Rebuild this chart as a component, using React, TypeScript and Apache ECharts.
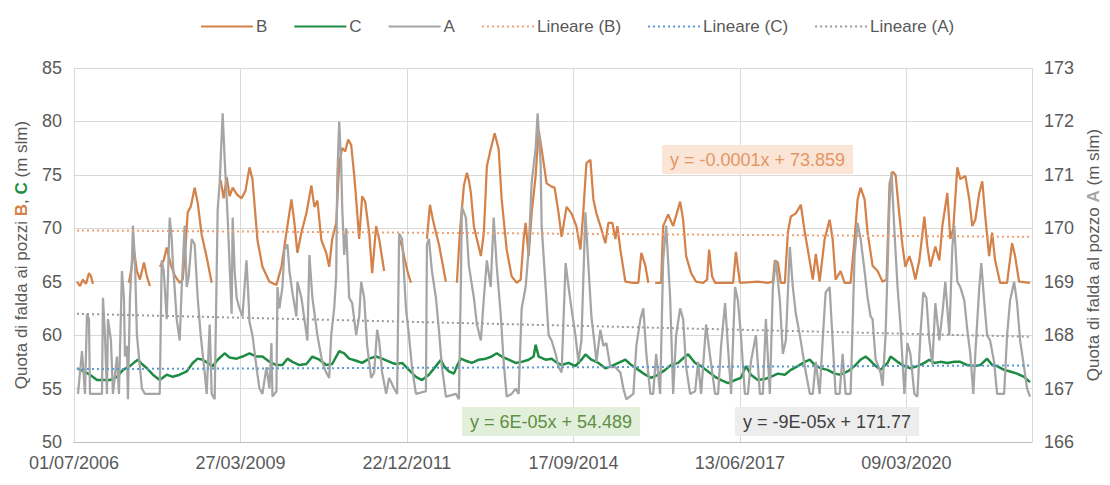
import React, { useEffect, useRef } from 'react';
import * as echarts from 'echarts';

// x values: days since 01/07/2006
const AXIS_MAX_DAY = 5755;
const xTickDays = [0, 1000, 2000, 3000, 4000, 5000];

// Series B (left axis), null = gap in record
const bDays = [18, 36, 54, 72, 90, 102, 114, 220,
  330, 348, 360, 378, 396, 420, 438, 456, 486,
  515, 539, 557, 581, 605, 635, 653, 671, 683, 701, 725, 743, 767, 797, 827, 855,
  881, 899, 917, 935, 953, 977, 1006, 1030, 1054, 1072, 1102, 1132, 1174, 1216, 1246, 1276, 1306, 1324, 1342, 1366, 1396, 1426, 1444, 1462, 1486, 1515, 1533, 1551, 1575, 1593, 1611, 1629, 1647, 1665, 1683, 1695, 1713, 1731, 1749, 1773, 1791, 1815, 1833, 1863, 1910,
  1953, 1971, 1988, 2006, 2024, 2070,
  2120, 2138, 2156, 2174, 2192, 2216, 2234, 2270,
  2300, 2318, 2342, 2360, 2372, 2384, 2402, 2420, 2444, 2462, 2480, 2503, 2527, 2551, 2569, 2599, 2629, 2659, 2683, 2701, 2713, 2731, 2749, 2773, 2791, 2809, 2839, 2869, 2887, 2911, 2929, 2959, 2988, 3018, 3042, 3060, 3078, 3102, 3120, 3138, 3168, 3192, 3210, 3234, 3252, 3264, 3282, 3312, 3360, 3390, 3408, 3432, 3450, 3470,
  3491, 3527, 3539, 3569, 3599, 3641, 3659, 3677, 3707, 3737, 3779, 3803, 3815, 3833, 3851, 3959, 3976, 4000, 4108, 4168, 4198, 4210, 4228, 4246, 4270, 4288, 4306, 4336, 4366, 4390, 4408, 4438, 4456, 4479, 4509, 4539, 4557, 4575, 4605, 4629, 4665, 4689, 4707, 4725, 4749, 4767, 4797, 4827, 4857, 4881, 4899, 4917, 4935, 4959, 4977, 4994, 5018, 5036, 5054, 5078, 5108, 5126, 5144, 5174, 5198, 5216, 5246, 5264, 5282, 5306, 5324, 5354, 5378, 5396, 5414, 5438, 5456, 5474, 5497, 5515, 5533, 5563, 5605, 5635, 5653, 5677, 5743];
const bValues = [65.0, 64.6, 65.2, 64.8, 65.8, 65.5, 64.8, null,
  64.9, 66.5, 68.0, 66.0, 65.2, 66.8, 65.5, 64.6, null,
  66.4, 67.0, 68.2, 66.6, 65.6, 64.9, 65.2, 68.5, 71.5, 72.0, 73.8, 72.4, 69.4, 67.3, 64.9, null,
  74.5, 72.8, 74.8, 73.0, 73.8, 73.2, 72.8, 73.5, 75.7, 74.6, 68.9, 66.4, 65.0, 64.7, 66.4, 69.6, 72.7, 70.5, 67.7, 69.6, 71.4, 74.0, 72.0, 72.6, 68.9, 67.7, 66.4, 69.0, 70.5, 76.0, 77.5, 77.2, 78.3, 77.8, 75.0, 72.7, 69.0, 73.0, 72.5, 69.6, 65.8, 70.2, 69.0, 66.0, null,
  69.0, 68.3, 67.0, 65.8, 64.9, null,
  69.0, 72.2, 70.8, 69.6, 68.5, 66.5, 65.0, null,
  64.9, 69.6, 74.0, 75.2, 74.5, 73.3, 70.2, 69.0, 67.4, 69.6, 75.8, 77.4, 78.9, 77.4, 72.7, 68.0, 65.5, 64.9, 65.2, 69.0, 70.5, 67.4, 71.4, 74.9, 79.2, 77.4, 74.2, 73.9, 73.8, 71.4, 69.2, 72.0, 71.4, 70.2, 68.0, 71.7, 76.1, 76.4, 72.7, 71.4, 69.9, 68.6, 70.5, 70.5, 69.0, 70.2, 68.0, 65.0, 64.9, 64.9, 67.7, 66.5, 64.9, null,
  64.9, 64.9, 70.2, 71.3, 70.2, 72.5, 70.8, 67.4, 65.8, 65.0, 64.9, 65.2, 68.0, 65.5, 64.9, 64.9, 67.8, 64.9, 65.0, 64.9, 65.0, 67.0, 66.8, 64.9, 64.9, 69.6, 71.1, 71.4, 72.2, 69.6, 68.0, 65.2, 67.6, 65.0, 69.0, 70.8, 69.0, 65.2, 66.0, 64.9, 64.9, 69.0, 72.7, 73.8, 72.7, 69.6, 66.5, 66.0, 65.0, 65.2, 74.2, 75.3, 75.0, 71.1, 68.3, 66.4, 67.4, 66.5, 65.2, 67.0, 71.1, 68.3, 66.4, 68.3, 67.0, 70.2, 73.3, 69.0, 70.0, 75.7, 74.6, 74.9, 72.7, 70.2, 70.8, 73.3, 74.4, 71.1, 67.4, 69.6, 67.0, 64.9, 64.9, 68.6, 67.4, 65.0, 64.9];

// Series C (left axis)
const cDays = [18, 60, 96, 138, 180, 216, 258, 294, 336, 366, 384, 408, 438, 474, 515, 557, 593, 635, 677, 713, 743, 773, 803, 833, 863, 905, 935, 977, 1012, 1054, 1096, 1132, 1174, 1216, 1252, 1282, 1312, 1354, 1396, 1432, 1474, 1515, 1551, 1593, 1623, 1653, 1695, 1731, 1773, 1815, 1851, 1911, 1935, 1971, 2012, 2054, 2090, 2132, 2174, 2204, 2222, 2252, 2282, 2300, 2324, 2354, 2390, 2432, 2474, 2509, 2539, 2569, 2611, 2653, 2689, 2731, 2761, 2773, 2791, 2833, 2869, 2893, 2929, 2971, 3012, 3048, 3072, 3108, 3150, 3192, 3228, 3270, 3312, 3348, 3390, 3432, 3468, 3509, 3551, 3587, 3629, 3671, 3689, 3731, 3767, 3809, 3851, 3887, 3929, 3971, 4006, 4036, 4066, 4108, 4150, 4186, 4228, 4270, 4306, 4348, 4390, 4420, 4450, 4485, 4527, 4569, 4605, 4647, 4689, 4725, 4755, 4785, 4809, 4845, 4887, 4905, 4947, 4988, 5024, 5066, 5108, 5138, 5168, 5204, 5246, 5288, 5324, 5366, 5408, 5444, 5485, 5515, 5545, 5587, 5623, 5665, 5707, 5743];
const cValues = [56.9, 56.6, 56.3, 55.8, 55.8, 55.8, 56.1, 56.75, 57.1, 57.5, 57.7, 57.3, 56.9, 56.3, 55.8, 56.3, 56.1, 56.3, 56.6, 57.4, 57.8, 57.7, 57.4, 57.1, 57.7, 58.3, 57.9, 57.8, 58.0, 58.3, 58.0, 58.0, 57.5, 57.2, 57.2, 57.8, 57.5, 57.2, 57.3, 58.0, 57.7, 57.2, 57.3, 58.5, 58.3, 57.8, 57.6, 57.4, 57.8, 58.0, 57.8, 57.4, 57.3, 57.4, 56.75, 56.1, 55.8, 56.3, 57.1, 57.7, 57.1, 56.6, 56.4, 57.1, 57.8, 57.6, 57.4, 57.7, 57.8, 58.0, 58.3, 58.0, 57.7, 57.4, 57.5, 57.7, 58.0, 59.1, 58.0, 57.7, 57.8, 57.5, 57.2, 57.4, 57.1, 57.7, 58.2, 57.7, 57.4, 56.9, 57.1, 57.4, 57.7, 57.2, 56.75, 56.3, 56.0, 56.3, 56.75, 57.2, 57.4, 58.0, 58.2, 57.4, 57.1, 56.6, 56.1, 55.8, 55.5, 55.8, 56.0, 57.1, 56.3, 55.8, 55.9, 56.1, 56.4, 56.3, 56.75, 57.1, 57.5, 57.7, 57.2, 56.9, 56.75, 56.4, 56.3, 56.6, 57.1, 57.7, 58.0, 57.6, 57.2, 56.75, 57.4, 58.0, 57.5, 57.1, 56.9, 57.1, 57.4, 57.7, 57.4, 57.5, 57.4, 57.5, 57.5, 57.2, 57.1, 57.2, 57.8, 57.2, 57.1, 56.75, 56.6, 56.4, 56.1, 55.6];

// Series A (right axis)
const aDays = [24, 48, 66, 78, 90, 96, 168, 174, 186, 198, 204, 222, 234, 258, 270, 288, 300, 306, 318, 324, 336, 348, 354, 366, 378, 396, 408, 426, 456, 515, 527, 539, 557, 575, 587, 593, 617, 635, 647, 665, 677, 689, 707, 725, 743, 761, 785, 797, 815, 827, 845, 863, 875, 893, 905, 923, 947, 953, 965, 977, 994, 1012, 1036, 1048, 1054, 1072, 1096, 1114, 1132, 1156, 1174, 1186, 1192, 1216, 1222, 1234, 1252, 1264, 1282, 1294, 1312, 1336, 1342, 1366, 1384, 1402, 1414, 1432, 1462, 1491, 1515, 1533, 1545, 1563, 1575, 1581, 1593, 1605, 1611, 1623, 1635, 1653, 1671, 1695, 1713, 1725, 1743, 1761, 1785, 1803, 1821, 1833, 1851, 1875, 1893, 1923, 1941, 1953, 1971, 1994, 2012, 2030, 2054, 2114, 2120, 2132, 2150, 2174, 2192, 2210, 2234, 2294, 2312, 2324, 2330, 2354, 2372, 2402, 2420, 2444, 2462, 2480, 2503, 2521, 2539, 2563, 2581, 2599, 2629, 2653, 2671, 2689, 2713, 2731, 2749, 2773, 2785, 2803, 2809, 2833, 2851, 2869, 2893, 2911, 2929, 2953, 2971, 2988, 3012, 3030, 3048, 3072, 3090, 3108, 3132, 3138, 3162, 3180, 3198, 3222, 3252, 3282, 3300, 3318, 3360, 3378, 3402, 3420, 3438, 3462, 3479, 3497, 3521, 3539, 3557, 3581, 3599, 3617, 3641, 3659, 3677, 3701, 3731, 3749, 3767, 3797, 3821, 3851, 3869, 3887, 3911, 3929, 3947, 3971, 3988, 4006, 4030, 4048, 4066, 4096, 4120, 4138, 4156, 4180, 4198, 4216, 4240, 4258, 4276, 4300, 4318, 4336, 4360, 4378, 4396, 4420, 4438, 4456, 4479, 4497, 4515, 4539, 4557, 4575, 4599, 4617, 4635, 4665, 4689, 4707, 4725, 4749, 4767, 4785, 4797, 4815, 4845, 4857, 4875, 4899, 4911, 4929, 4947, 4965, 4988, 5006, 5024, 5048, 5066, 5084, 5102, 5120, 5138, 5156, 5174, 5198, 5216, 5234, 5258, 5276, 5288, 5306, 5324, 5348, 5366, 5384, 5402, 5414, 5438, 5450, 5467, 5485, 5503, 5527, 5545, 5587, 5605, 5623, 5647, 5665, 5683, 5707, 5725, 5743];
const aValues = [166.9, 167.7, 166.9, 168.4, 168.3, 166.9, 166.9, 168.7, 168.0, 166.9, 168.3, 167.9, 166.9, 167.6, 166.9, 169.2, 168.7, 167.6, 167.8, 166.8, 168.7, 169.4, 170.05, 169.4, 168.0, 167.4, 167.0, 166.9, 166.9, 166.9, 169.4, 169.2, 168.3, 170.2, 169.8, 169.4, 168.3, 167.9, 168.9, 170.05, 168.9, 169.1, 169.8, 169.7, 168.7, 168.0, 167.3, 166.9, 168.2, 166.9, 166.8, 170.35, 170.85, 172.15, 171.3, 170.2, 168.4, 170.2, 169.2, 168.7, 168.5, 168.35, 169.4, 168.7, 168.25, 168.0, 167.4, 167.0, 166.9, 167.4, 167.0, 167.85, 166.85, 166.95, 168.9, 168.5, 168.9, 169.6, 169.7, 169.2, 168.8, 168.35, 169.0, 168.7, 168.3, 167.9, 169.5, 168.7, 168.0, 167.5, 167.3, 167.2, 168.0, 168.5, 169.1, 170.9, 172.0, 171.2, 170.4, 169.5, 170.0, 168.7, 168.6, 168.0, 168.35, 169.0, 168.7, 167.8, 167.2, 167.3, 168.1, 167.9, 167.3, 166.9, 167.2, 167.0, 166.9, 169.9, 169.8, 168.5, 168.0, 167.4, 166.9, 166.95, 169.7, 169.8, 169.2, 168.7, 168.1, 167.4, 166.85, 166.9, 166.8, 169.0, 170.4, 170.2, 169.3, 168.7, 168.2, 167.9, 168.7, 169.4, 168.9, 170.2, 169.3, 168.4, 167.5, 166.85, 166.9, 167.0, 166.9, 168.5, 168.9, 169.6, 170.85, 171.5, 172.15, 171.2, 170.05, 168.9, 168.0, 167.9, 167.65, 167.4, 167.3, 169.35, 168.9, 168.5, 168.0, 167.5, 167.9, 170.3, 169.3, 168.35, 167.7, 167.5, 168.1, 167.8, 167.85, 167.4, 167.4, 167.3, 167.0, 166.8, 166.9, 167.8, 168.3, 168.5, 167.65, 166.9, 166.9, 167.65, 166.9, 169.4, 170.05, 168.7, 166.9, 168.0, 168.5, 168.3, 167.4, 166.9, 166.95, 167.5, 166.9, 168.2, 167.6, 166.9, 166.9, 167.8, 168.6, 167.75, 166.9, 168.9, 168.65, 168.0, 166.9, 166.9, 167.5, 168.0, 166.9, 166.9, 168.3, 166.9, 168.9, 169.4, 168.65, 167.65, 167.9, 169.65, 168.9, 168.4, 168.0, 167.65, 167.3, 166.9, 166.9, 167.5, 166.9, 167.9, 168.8, 168.9, 167.9, 166.9, 166.9, 167.65, 166.9, 166.9, 169.5, 170.1, 169.8, 169.2, 168.7, 168.35, 168.3, 167.55, 167.3, 167.05, 168.0, 170.5, 171.05, 169.9, 168.9, 168.15, 166.9, 167.85, 167.65, 166.9, 166.85, 168.0, 168.8, 168.7, 167.9, 167.45, 168.6, 167.9, 168.4, 169.0, 168.0, 169.65, 170.05, 169.0, 168.9, 168.65, 168.1, 167.65, 166.9, 167.65, 168.9, 169.35, 168.65, 168.0, 167.9, 167.5, 166.9, 166.9, 168.0, 168.65, 169.0, 168.6, 167.9, 167.4, 167.0, 166.85];

// Linear trend lines (start / end of record)
const trendDays = [18, 5743];
const trendB = [69.8, 69.2];
const trendC = [56.82, 57.16];
const trendA = [168.4, 167.97];

const legendNames = ['B', 'C', 'A', 'Lineare (B)', 'Lineare (C)', 'Lineare (A)'];
const equationTexts = ['y = -0.0001x + 73.859', 'y = 6E-05x + 54.489', 'y = -9E-05x + 171.77'];

const DAY0 = Date.UTC(2006, 6, 1);
const pad = (n: number) => (n < 10 ? '0' + n : '' + n);
const fmtDay = (v: number) => {
  const d = new Date(DAY0 + Math.round(v) * 86400000);
  return pad(d.getUTCDate()) + '/' + pad(d.getUTCMonth() + 1) + '/' + d.getUTCFullYear();
};

const zip = (xs: number[], ys: (number | null)[]) => xs.map((x, i) => [x, ys[i] === null ? '-' : ys[i]]);

const FONT = '"Liberation Sans Narrow", "Liberation Sans", Arial, sans-serif';
const TXT = '#595959';
const ORANGE = '#D4824A';
const GREEN = '#1E8B43';
const GRAY = '#A5A5A5';

export default function App() {
  const ref = useRef<HTMLDivElement>(null);
  useEffect(() => {
    document.body.style.margin = '0';
    const chart = echarts.init(ref.current!, null, { renderer: 'svg' });
    const option: any = {
      animation: false,
      backgroundColor: '#ffffff',
      textStyle: { fontFamily: FONT },
      grid: { left: 74, right: 75, top: 68, bottom: 43, containLabel: false },
      legend: {
        data: legendNames,
        left: 195,
        top: 13,
        itemWidth: 52,
        itemHeight: 14,
        itemGap: 26,
        itemStyle: { opacity: 0 },
        textStyle: { color: TXT, fontSize: 17, fontFamily: FONT, padding: [0, 0, 0, -2] },
      },
      xAxis: {
        type: 'value',
        min: 0,
        max: AXIS_MAX_DAY,
        interval: 1000,
        axisLine: { show: true, lineStyle: { color: '#BFBFBF', width: 1 } },
        axisTick: { show: false },
        splitLine: { show: true, lineStyle: { color: '#D9D9D9', width: 1 } },
        axisLabel: {
          color: TXT,
          fontSize: 18,
          fontFamily: FONT,
          margin: 12,
          showMaxLabel: false,
          formatter: (v: number) => (xTickDays.indexOf(Math.round(v)) >= 0 ? fmtDay(v) : ''),
        },
      },
      yAxis: [
        {
          type: 'value',
          min: 50,
          max: 85,
          interval: 5,
          position: 'left',
          axisLine: { show: false },
          axisTick: { show: false },
          splitLine: { show: true, lineStyle: { color: '#D9D9D9', width: 1 } },
          axisLabel: { color: TXT, fontSize: 18, fontFamily: FONT, margin: 12 },
          name: '{n|Quota di falda ai pozzi }{b|B}{n|, }{c|C}{n| (m slm)}',
          nameLocation: 'middle',
          nameRotate: 90,
          nameGap: 44,
          nameTextStyle: {
            color: TXT,
            fontSize: 17,
            fontFamily: FONT,
            rich: {
              n: { color: TXT, fontSize: 17, fontFamily: FONT },
              b: { color: ORANGE, fontSize: 17, fontWeight: 'bold', fontFamily: FONT },
              c: { color: GREEN, fontSize: 17, fontWeight: 'bold', fontFamily: FONT },
            },
          },
        },
        {
          type: 'value',
          min: 166,
          max: 173,
          interval: 1,
          position: 'right',
          axisLine: { show: false },
          axisTick: { show: false },
          splitLine: { show: false },
          axisLabel: { color: TXT, fontSize: 18, fontFamily: FONT, margin: 12 },
          name: '{n|Quota di falda al pozzo }{a|A}{n| (m slm)}',
          nameLocation: 'middle',
          nameRotate: 90,
          nameGap: 52,
          nameTextStyle: {
            color: TXT,
            fontSize: 17,
            fontFamily: FONT,
            rich: {
              n: { color: TXT, fontSize: 17, fontFamily: FONT },
              a: { color: GRAY, fontSize: 17, fontWeight: 'bold', fontFamily: FONT },
            },
          },
        },
      ],
      series: [
        {
          name: 'B', type: 'line', yAxisIndex: 0, showSymbol: false, symbol: 'none',
          connectNulls: false,
          data: zip(bDays, bValues),
          lineStyle: { color: ORANGE, width: 2.25 }, itemStyle: { color: ORANGE }, z: 3,
        },
        {
          name: 'C', type: 'line', yAxisIndex: 0, showSymbol: false, symbol: 'none',
          data: zip(cDays, cValues),
          lineStyle: { color: GREEN, width: 2.5 }, itemStyle: { color: GREEN }, z: 4,
        },
        {
          name: 'A', type: 'line', yAxisIndex: 1, showSymbol: false, symbol: 'none',
          data: zip(aDays, aValues),
          lineStyle: { color: GRAY, width: 2.25 }, itemStyle: { color: GRAY }, z: 5,
        },
        {
          name: 'Lineare (B)', type: 'line', yAxisIndex: 0, showSymbol: false, symbol: 'none',
          data: zip(trendDays, trendB),
          lineStyle: { color: '#F0A173', width: 2, type: [2, 3] }, itemStyle: { color: '#F0A173' }, z: 6,
        },
        {
          name: 'Lineare (C)', type: 'line', yAxisIndex: 0, showSymbol: false, symbol: 'none',
          data: zip(trendDays, trendC),
          lineStyle: { color: '#5B9BD5', width: 2, type: [2, 3] }, itemStyle: { color: '#5B9BD5' }, z: 6,
        },
        {
          name: 'Lineare (A)', type: 'line', yAxisIndex: 1, showSymbol: false, symbol: 'none',
          data: zip(trendDays, trendA),
          lineStyle: { color: '#9A9A9A', width: 2, type: [2, 3] }, itemStyle: { color: '#9A9A9A' }, z: 6,
        },
      ],
      graphic: [
        {
          type: 'text', left: 662, top: 145, z: 100,
          style: {
            text: equationTexts[0], fill: '#E39664', font: '18px ' + FONT,
            backgroundColor: '#FBE5D6', padding: [6, 8, 5, 8],
          },
        },
        {
          type: 'text', left: 462, top: 407, z: 100,
          style: {
            text: equationTexts[1], fill: '#5E8F45', font: '18px ' + FONT,
            backgroundColor: '#E2EFDA', padding: [6, 8, 5, 8],
          },
        },
        {
          type: 'text', left: 735, top: 407, z: 100,
          style: {
            text: equationTexts[2], fill: '#404040', font: '18px ' + FONT,
            backgroundColor: '#EDEDED', padding: [6, 8, 5, 8],
          },
        },
      ],
    };
    chart.setOption(option);
    return () => chart.dispose();
  }, []);
  return <div ref={ref} style={{ width: 1110, height: 485 }} />;
}
